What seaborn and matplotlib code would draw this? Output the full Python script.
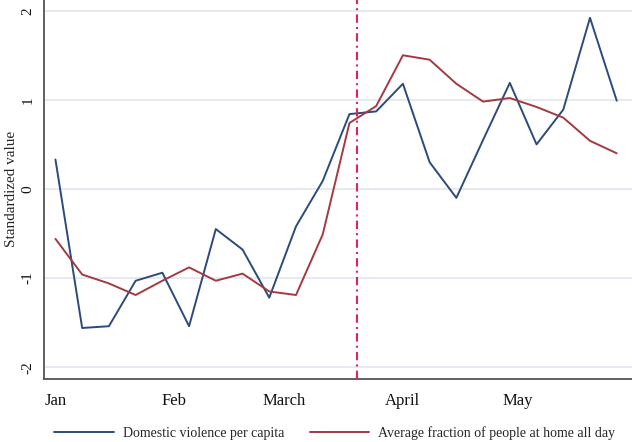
#!/usr/bin/env python3
# -*- coding: utf-8 -*-
"""
plot.py

Weekly domestic violence vs. share of people staying home, 2020
"""

import matplotlib.pyplot as plt
import pandas as pd
import seaborn as sns

# Weekly observations (2020)
weeks = [
    "2020-01-01", "2020-01-08", "2020-01-15", "2020-01-22", "2020-01-29",
    "2020-02-05", "2020-02-12", "2020-02-19", "2020-02-26", "2020-03-04",
    "2020-03-11", "2020-03-18", "2020-03-25", "2020-04-01", "2020-04-08",
    "2020-04-15", "2020-04-22", "2020-04-29", "2020-05-06", "2020-05-13",
    "2020-05-20", "2020-05-27",
]
violence = [
    0.33, -1.56, -1.54, -1.03, -0.94, -1.54, -0.45, -0.68, -1.22, -0.42,
    0.09, 0.84, 0.87, 1.18, 0.30, -0.10, 0.55, 1.19, 0.50, 0.89,
    1.92, 0.99,
]
at_home = [
    -0.56, -0.96, -1.06, -1.19, -1.03, -0.88, -1.03, -0.95, -1.15, -1.19,
    -0.51, 0.74, 0.93, 1.50, 1.45, 1.18, 0.98, 1.02, 0.92, 0.80,
    0.54, 0.40,
]
month_ticks = ["2020-01-01", "2020-02-01", "2020-03-01", "2020-04-01", "2020-05-01"]
month_labels = ["Jan", "Feb", "March", "April", "May"]
order_date = "2020-03-20"
y_ticks = [-2, -1, 0, 1, 2]

df = pd.DataFrame({
    "week": pd.to_datetime(weeks),
    "violence": violence,
    "at_home": at_home,
})

sns.set_style("white")
plt.rcParams["font.family"] = ["Liberation Serif", "DejaVu Serif"]
plt.rcParams["font.size"] = 12

fig = plt.figure(figsize=(6.32, 4.42), dpi=100)
ax = fig.add_axes([0.0696, 0.143, 0.9304, 0.857])

for y in y_ticks:
    ax.axhline(y, color="#e2e8f1", lw=1.2, zorder=0)

sns.lineplot(data=df, x="week", y="violence", ax=ax, color="#2c4a7c",
             lw=1.4, label="Domestic violence per capita")
sns.lineplot(data=df, x="week", y="at_home", ax=ax, color="#a23a42",
             lw=1.4, label="Average fraction of people at home all day")

ax.axvline(pd.Timestamp(order_date), color="#e0245a", lw=1.5,
           ls=(0, (4, 2, 1, 2)), zorder=3)

ax.set_xlim(pd.Timestamp("2019-12-29"), pd.Timestamp("2020-05-31"))
ax.set_ylim(-2.13, 2.12)
ax.set_xticks(pd.to_datetime(month_ticks))
ax.set_xticklabels(month_labels)
ax.set_yticks(y_ticks)
ax.set_yticklabels([str(v) for v in y_ticks], rotation=90, va="center")
ax.tick_params(axis="both", direction="out", length=5, width=1,
               color="#444444", labelcolor="#111111", labelsize=12)
ax.tick_params(axis="x", pad=5)
ax.tick_params(axis="y", length=4, pad=3, labelsize=11)

ax.set_xlabel("")
ax.set_ylabel("Standardized value", fontsize=11)
ax.yaxis.set_label_coords(-0.0442, 0.5)

for side in ["top", "right"]:
    ax.spines[side].set_visible(False)
for side in ["left", "bottom"]:
    ax.spines[side].set_color("#555555")
    ax.spines[side].set_linewidth(1.3)

ax.get_legend().remove()
handles, labels = ax.get_legend_handles_labels()
fig.legend(handles, labels, loc="center", bbox_to_anchor=(0.530, 0.02),
           ncol=2, frameon=False, fontsize=10, handlelength=4.3,
           handletextpad=0.65, columnspacing=1.8)

fig.savefig("out.png", dpi=100)
